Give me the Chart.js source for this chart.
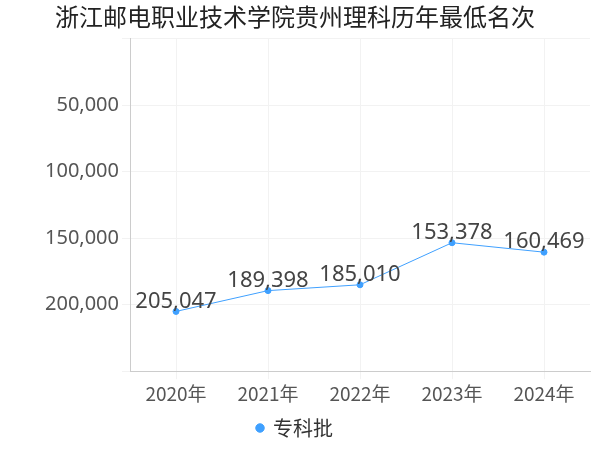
<!DOCTYPE html>
<html><head><meta charset="utf-8">
<script src="https://cdn.jsdelivr.net/npm/chart.js@4"></script>
<style>body{margin:0;background:#fff}#w{width:600px;height:450px}</style>
</head><body><div id="w"><canvas id="c"></canvas></div>
<script>
const categories=["2020年","2021年","2022年","2023年","2024年"];
const values=[205047,189398,185010,153378,160469];
const seriesName="专科批";
const title="浙江邮电职业技术学院贵州理科历年最低名次";
const labelPlugin={id:'lbl',afterDatasetsDraw(ch){const ctx=ch.ctx;const m=ch.getDatasetMeta(0);ctx.save();ctx.font='22px "Noto Sans", sans-serif';ctx.fillStyle='#444';ctx.textAlign='center';ctx.textBaseline='bottom';m.data.forEach((p,i)=>{ctx.fillText(values[i].toLocaleString('en-US'),p.x,p.y+1);});ctx.restore();}};
new Chart(document.getElementById('c'),{type:'line',
data:{labels:categories,datasets:[{label:seriesName,data:values,borderColor:'#3fa0ff',backgroundColor:'#3fa0ff',borderWidth:1,pointRadius:3,tension:0}]},
options:{responsive:true,maintainAspectRatio:false,animation:false,
layout:{padding:{right:10,left:0,bottom:2}},
plugins:{title:{display:true,text:title,font:{size:24,family:'"Noto Sans CJK SC", sans-serif',weight:'normal'},color:'#222',padding:{top:2,bottom:8}},
legend:{position:'bottom',labels:{usePointStyle:true,pointStyle:'circle',boxWidth:6,boxHeight:6,font:{size:20,family:'"Noto Sans CJK SC", sans-serif'},color:'#333'}}},
scales:{y:{reverse:true,min:0,max:250000,afterFit:s=>{s.width=130;},ticks:{stepSize:50000,font:{size:20,family:'"Noto Sans", sans-serif'},color:'#555',callback:v=>(v===0||v===250000)?'':v.toLocaleString('en-US')},grid:{color:'#f2f2f2'},border:{color:'#ccc'}},
x:{offset:true,ticks:{font:{size:19,family:'"Noto Sans CJK SC", sans-serif'},color:'#555'},grid:{color:'#f2f2f2'},border:{color:'#ccc'}}}},
plugins:[labelPlugin]});
</script></body></html>
